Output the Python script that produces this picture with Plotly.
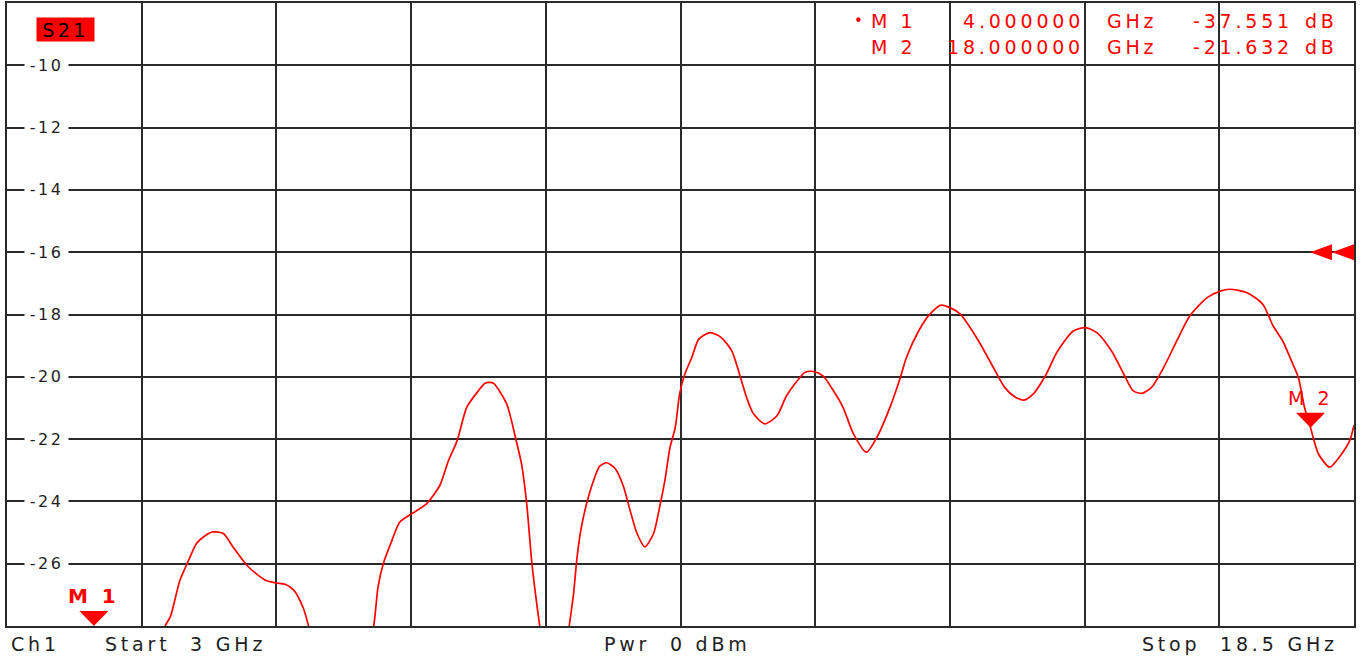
import plotly.graph_objects as go

# ---------------- data ----------------
freq_ghz = [3.0, 3.3, 3.6, 3.9, 4.0, 4.2, 4.5, 4.7, 4.82, 4.88, 4.99, 5.09, 5.18, 5.28,
            5.37, 5.49, 5.60, 5.76, 5.88, 5.99, 6.10, 6.20, 6.30, 6.41, 6.47, 6.6, 6.8,
            7.0, 7.1, 7.22, 7.27, 7.33, 7.43, 7.52, 7.66, 7.83, 7.98, 8.08, 8.18, 8.29,
            8.41, 8.50, 8.55, 8.60, 8.75, 8.85, 8.92, 8.98, 9.04, 9.10, 9.13, 9.2, 9.3,
            9.4, 9.47, 9.52, 9.56, 9.61, 9.67, 9.75, 9.82, 9.90, 10.00, 10.09, 10.17,
            10.25, 10.34, 10.44, 10.51, 10.57, 10.63, 10.69, 10.74, 10.80, 10.88, 10.96,
            11.09, 11.22, 11.34, 11.44, 11.51, 11.59, 11.72, 11.86, 11.97, 12.11, 12.18,
            12.28, 12.39, 12.51, 12.62, 12.74, 12.89, 13.01, 13.16, 13.28, 13.35, 13.49,
            13.62, 13.75, 13.85, 13.97, 14.18, 14.35, 14.48, 14.60, 14.70, 14.81, 14.96,
            15.08, 15.27, 15.41, 15.54, 15.71, 15.85, 15.96, 16.06, 16.17, 16.31, 16.46,
            16.61, 16.81, 16.96, 17.07, 17.27, 17.45, 17.57, 17.68, 17.78, 17.86, 17.93,
            18.00, 18.09, 18.22, 18.33, 18.45, 18.5]
s21_db = [-44.0, -42.0, -40.0, -38.2, -37.551, -35.5, -31.8, -29.3, -28.0, -27.70, -26.53,
          -25.89, -25.35, -25.10, -24.98, -25.03, -25.46, -26.05, -26.35, -26.55, -26.62,
          -26.66, -26.85, -27.43, -28.0, -29.6, -31.0, -30.6, -29.6, -28.0, -26.74, -26.0,
          -25.25, -24.66, -24.39, -24.07, -23.49, -22.69, -22.05, -20.98, -20.50, -20.21,
          -20.18, -20.21, -20.87, -21.94, -22.79, -24.07, -25.99, -27.38, -28.0, -29.8,
          -31.0, -29.6, -28.0, -26.95, -25.78, -24.82, -24.07, -23.33, -22.87, -22.76,
          -22.95, -23.49, -24.29, -25.03, -25.46, -25.03, -24.18, -23.33, -22.26, -21.62,
          -20.55, -19.91, -19.38, -18.79, -18.58, -18.74, -19.17, -20.02, -20.66, -21.19,
          -21.51, -21.25, -20.61, -20.07, -19.86, -19.83, -19.97, -20.45, -20.98, -21.83,
          -22.42, -21.94, -20.98, -20.02, -19.38, -18.53, -17.99, -17.70, -17.78, -17.99,
          -18.85, -19.70, -20.34, -20.65, -20.75, -20.55, -19.91, -19.22, -18.53, -18.42,
          -18.58, -19.17, -19.91, -20.45, -20.53, -20.34, -19.70, -18.85, -18.05, -17.46,
          -17.25, -17.19, -17.30, -17.67, -18.37, -18.85, -19.49, -20.02, -20.98, -21.632,
          -22.47, -22.90, -22.58, -22.05, -21.55]
assert len(freq_ghz) == len(s21_db)

marker_names = ["M 1", "M 2"]
marker_freq = [4.0, 18.0]
marker_db = [-37.551, -21.632]
active_marker = 0

y_tick_values = [-10, -12, -14, -16, -18, -20, -22, -24, -26]
start_ghz = 3.0
stop_ghz = 18.5
y_bottom = -28
y_top = -8
ref_level = -16
trace_label = "S21"
footer_texts = ["Ch1", "Start\u00a0 3 GHz", "Pwr\u00a0 0 dBm", "Stop\u00a0 18.5 GHz"]

# ---------------- style ----------------
W, H = 1369, 660
ML, MR, MT, MB = 7, 15, 1, 34
RED = "#ff0000"
GRID = "#2a2a2a"
TXT = "#1e1e1e"
FONT = "DejaVu Sans"


def spaced(t, ls):
    return f'<span style="letter-spacing:{ls}px">{t}</span>'


fig = go.Figure()
fig.add_trace(go.Scatter(x=freq_ghz, y=s21_db, mode="lines",
                         line=dict(color=RED, width=1.7, shape="spline", smoothing=0.7),
                         hoverinfo="skip", showlegend=False))

annotations = []
shapes = []

# y tick labels drawn inside the grid with white background
for v in y_tick_values:
    annotations.append(dict(x=0, xref="paper", y=v, yref="y", xshift=39.5,
                            xanchor="center", yanchor="middle", width=43,
                            bgcolor="white", borderpad=0, showarrow=False,
                            text=spaced(str(v), 2.5),
                            font=dict(family=FONT, size=16, color=TXT)))

# trace label box
annotations.append(dict(x=0, xref="paper", y=1, yref="paper", xshift=58, yshift=-26,
                        xanchor="center", yanchor="middle", width=57, height=23,
                        bgcolor=RED, borderpad=0, showarrow=False,
                        text=spaced(trace_label, 3.5),
                        font=dict(family=FONT, size=19, color="#000000")))

# marker readout (top right)
row_y = [20.7, 46.3]
for i, (nm, f, d) in enumerate(zip(marker_names, marker_freq, marker_db)):
    ys = -(row_y[i] - MT) + 1.5
    fnt = dict(family=FONT, size=19, color=RED)
    if i == active_marker:
        annotations.append(dict(x=0, xref="paper", y=1, yref="paper", xshift=858 - ML,
                                yshift=ys, xanchor="center", yanchor="middle",
                                showarrow=False, text="\u2022",
                                font=dict(family=FONT, size=15, color=RED)))
    annotations.append(dict(x=0, xref="paper", y=1, yref="paper", xshift=893 - ML,
                            yshift=ys, xanchor="center", yanchor="middle",
                            showarrow=False, text=spaced(nm, 3.5), font=fnt))
    annotations.append(dict(x=0, xref="paper", y=1, yref="paper", xshift=1086 - ML,
                            yshift=ys, xanchor="right", yanchor="middle",
                            showarrow=False, text=spaced(f"{f:.6f}", 3.8), font=fnt))
    annotations.append(dict(x=0, xref="paper", y=1, yref="paper", xshift=1132 - ML,
                            yshift=ys, xanchor="center", yanchor="middle",
                            showarrow=False, text=spaced("GHz", 3.8), font=fnt))
    annotations.append(dict(x=0, xref="paper", y=1, yref="paper", xshift=1295 - ML,
                            yshift=ys, xanchor="right", yanchor="middle",
                            showarrow=False, text=spaced(f"{d:.3f}", 3.8), font=fnt))
    annotations.append(dict(x=0, xref="paper", y=1, yref="paper", xshift=1321 - ML,
                            yshift=ys, xanchor="center", yanchor="middle",
                            showarrow=False, text=spaced("dB", 3.8), font=fnt))

# marker triangles and labels on the trace
for i, (nm, f, d) in enumerate(zip(marker_names, marker_freq, marker_db)):
    yv = min(max(d, y_bottom), y_top)
    shapes.append(dict(type="path", xref="x", yref="y", xsizemode="pixel",
                       ysizemode="pixel", xanchor=f, yanchor=yv,
                       path="M -14.5,15 L 14.5,15 L 0,0 Z",
                       fillcolor=RED, line=dict(color=RED, width=0)))
    bold = i == active_marker
    annotations.append(dict(x=f, xref="x", y=yv, yref="y", yshift=30,
                            xanchor="center", yanchor="middle", showarrow=False,
                            text=spaced(f"<b>{nm}</b>" if bold else nm, 3.5),
                            font=dict(family=FONT, size=20 if bold else 19, color=RED)))

# reference level indicator at right edge
shapes.append(dict(type="path", xref="x", yref="y", xsizemode="pixel", ysizemode="pixel",
                   xanchor=stop_ghz, yanchor=ref_level,
                   path="M -44,0 L -22,8 L -22,-8 Z M -22,0 L 0,8 L 0,-8 Z",
                   fillcolor=RED, line=dict(color=RED, width=0)))

# footer
footer_px = [35, 185, 677, 1240]
for t, px in zip(footer_texts, footer_px):
    annotations.append(dict(x=0, xref="paper", y=0, yref="paper", xshift=px - ML,
                            yshift=-18, xanchor="center", yanchor="middle",
                            showarrow=False, text=spaced(t, 3.8),
                            font=dict(family=FONT, size=19, color=TXT)))

x_div = (stop_ghz - start_ghz) / 10
fig.update_layout(
    width=W, height=H,
    margin=dict(l=ML, r=MR, t=MT, b=MB, pad=0),
    paper_bgcolor="white", plot_bgcolor="white",
    xaxis=dict(range=[start_ghz, stop_ghz],
               tickvals=[start_ghz + k * x_div for k in range(11)],
               showticklabels=False, ticks="", showgrid=True, gridcolor=GRID,
               gridwidth=1.7, zeroline=False, showline=True, mirror=True,
               linecolor=GRID, linewidth=2),
    yaxis=dict(range=[y_bottom, y_top], dtick=2, tick0=y_bottom,
               showticklabels=False, ticks="", showgrid=True, gridcolor=GRID,
               gridwidth=1.7, zeroline=False, showline=True, mirror=True,
               linecolor=GRID, linewidth=2),
    annotations=annotations,
    shapes=shapes,
    showlegend=False,
)

fig.write_html("out.html", config={"displayModeBar": False},
               post_script="document.body.style.margin='0';document.body.style.overflow='hidden';")
